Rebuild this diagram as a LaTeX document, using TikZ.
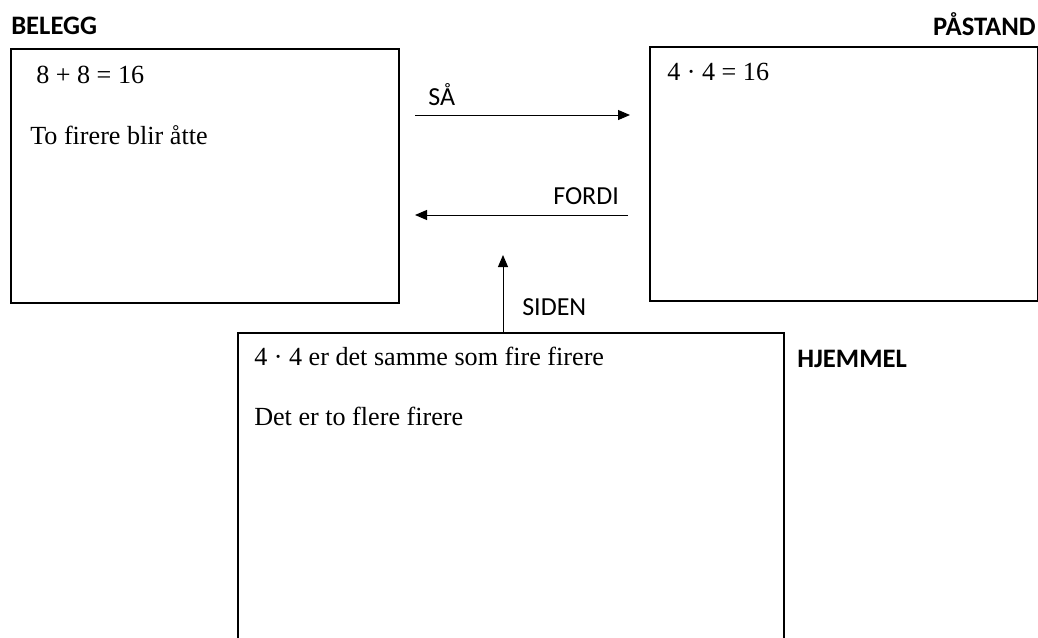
\documentclass[tikz,border=0pt]{standalone}
\usepackage{fontspec}
\setmainfont{Liberation Serif}
\newfontfamily\labelfont{Carlito}
\usetikzlibrary{arrows.meta}

\begin{document}
\begin{tikzpicture}[x=0.75pt,y=-0.75pt,
  panel/.style={draw, line width=1.5pt, inner sep=0pt, anchor=north west},
  title/.style={font=\labelfont\bfseries\fontsize{20}{24}\selectfont, inner sep=0pt},
  body/.style={font=\fontsize{19.6}{23}\selectfont, inner sep=0pt, anchor=base west},
  tag/.style={font=\labelfont\fontsize{19.5}{23}\selectfont, inner sep=0pt, anchor=base west},
  link/.style={line width=0.75pt, -{Triangle[length=9pt,width=7.5pt]}}]
\clip (0,0) rectangle (1038,637);

% the three boxes
\node[panel, minimum width=291pt, minimum height=190.5pt] (belegg) at (10,48) {};
\node[panel, minimum width=291pt, minimum height=190.5pt] (pastand) at (649,46) {};
\node[panel, minimum width=409.5pt, minimum height=240pt] (hjemmel) at (237,332) {};

% headings
\node[title, anchor=base west] (tBelegg) at (11,34) {BELEGG};
\node[title, anchor=base east] (tPastand) at (1036,35) {PÅSTAND};
\node[title, anchor=base west] (tHjemmel) at (797,367) {HJEMMEL};

% box contents
\node[body] (b1) at (36,83) {8 + 8 = 16};
\node[body] (b2) at (30,144) {To firere blir åtte};
\node[body] (p1) at (667,80) {4 · 4 = 16};
\node[body] (h1) at (254,365) {4 · 4 er det samme som fire firere};
\node[body] (h2) at (254,425) {Det er to flere firere};

% connectors
\coordinate (saStart) at (415,115);
\coordinate (saEnd) at (630,115);
\coordinate (forStart) at (628,215);
\coordinate (forEnd) at (415,215);
\coordinate (sidTip) at (503,255);

\draw[link] (saStart) -- (saEnd);
\draw[link] (forStart) -- (forEnd);
\draw[link] (hjemmel.north west -| sidTip) -- (sidTip);

\node[tag] (lSa) at (428,105) {SÅ};
\node[tag] (lFordi) at (553,204) {FORDI};
\node[tag] (lSiden) at (522,315) {SIDEN};
\end{tikzpicture}
\end{document}
